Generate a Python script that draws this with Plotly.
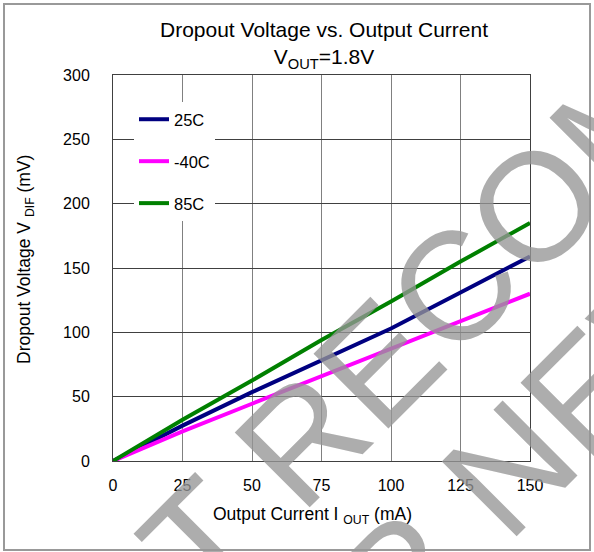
import plotly.graph_objects as go

# ---- data ----
current_ma = [0, 25, 50, 75, 100, 125, 150]
v_25c = [0, 27.5, 53.5, 78, 103, 131, 159]
v_m40c = [0, 23, 44.5, 66, 87, 109, 130]
v_85c = [0, 32, 62.5, 94, 124, 155, 185]

series_names = ["25C", "-40C", "85C"]
series_values = [v_25c, v_m40c, v_85c]
series_colors = ["#000080", "#ff00ff", "#008000"]

x_ticks = [0, 25, 50, 75, 100, 125, 150]
y_ticks = [0, 50, 100, 150, 200, 250, 300]

title_text = "Dropout Voltage vs. Output Current<br>V<sub>OUT</sub>=1.8V"
x_title = "Output Current I <sub>OUT</sub> (mA)"
y_title = "Dropout Voltage V <sub>DIF</sub> (mV)"
watermark_lines = ["NOT RECOMMENDED", "FOR NEW DESIGN"]

FONT = "Arial, 'Liberation Sans', sans-serif"

# layout geometry (pixels)
W, H = 594, 552
L, R, T, B = 113, 64, 75, 91
PW, PH = W - L - R, H - T - B


def px(xp):
    return (xp - L) / PW


def py(yp):
    return (H - B - yp) / PH


fig = go.Figure()
for i, (name, vals, col) in enumerate(zip(series_names, series_values, series_colors)):
    fig.add_trace(go.Scatter(
        x=current_ma, y=vals, name=name, mode="lines",
        line=dict(color=col, width=4),
        legendgroup=f"g{i}",
    ))

annotations = [
    dict(text=x_title, x=px(312), y=py(515), xref="paper", yref="paper",
         xanchor="center", yanchor="middle", showarrow=False,
         font=dict(family=FONT, size=17.5, color="black")),
    dict(text=y_title, x=px(25), y=py(260), xref="paper", yref="paper",
         xanchor="center", yanchor="middle", showarrow=False, textangle=-90,
         font=dict(family=FONT, size=17.5, color="black")),
]
wm_centers = [(573, 169), (691, 287)]
for txt, (cx, cy) in zip(watermark_lines, wm_centers):
    annotations.append(dict(
        text=txt, x=px(cx), y=py(cy), xref="paper", yref="paper",
        xanchor="center", yanchor="middle", showarrow=False, textangle=-45,
        font=dict(family=FONT, size=154, color="rgba(150,150,150,0.78)"),
    ))

fig.update_layout(
    width=W, height=H,
    margin=dict(l=L, r=R, t=T, b=B),
    paper_bgcolor="white", plot_bgcolor="white",
    font=dict(family=FONT, color="black"),
    title=dict(text=title_text, x=324 / W, xref="container", xanchor="center",
               y=1 - 37 / H, yref="container", yanchor="middle",
               font=dict(family=FONT, size=21, color="black")),
    showlegend=True,
    legend=dict(x=px(134), y=py(102), xanchor="left", yanchor="top",
                bgcolor="white", borderwidth=0, traceorder="grouped",
                tracegroupgap=17.5, itemwidth=30,
                font=dict(family=FONT, size=16.5, color="black")),
    annotations=annotations,
    shapes=[dict(type="rect", xref="paper", yref="paper",
                 x0=px(4), x1=px(590), y0=py(550), y1=py(4),
                 line=dict(color="#999999", width=2), layer="below")],
)

fig.update_xaxes(range=[0, 150], tickvals=x_ticks, ticktext=[str(v) for v in x_ticks],
                 showgrid=True, gridcolor="#808080", gridwidth=1,
                 showline=True, linecolor="#404040", linewidth=1, mirror=True,
                 zeroline=False, ticks="", ticklabelstandoff=10,
                 tickfont=dict(family=FONT, size=16, color="black"))
fig.update_yaxes(range=[0, 300], tickvals=y_ticks, ticktext=[str(v) for v in y_ticks],
                 showgrid=True, gridcolor="#404040", gridwidth=1,
                 showline=True, linecolor="#404040", linewidth=1, mirror=True,
                 zeroline=False, ticks="", ticklabelstandoff=19,
                 tickfont=dict(family=FONT, size=16, color="black"))

fig.write_html("out.html", config={"displayModeBar": False},
               post_script="document.body.style.margin='0';")
